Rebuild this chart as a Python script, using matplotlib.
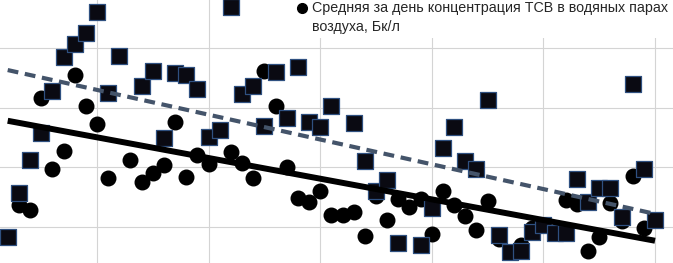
import numpy as np
import matplotlib.pyplot as plt
from matplotlib.lines import Line2D
from matplotlib.patches import Rectangle

# --- DATA (Tage und Konzentrationen) ---
days = np.arange(2, 61)

# Quadrate: zweite Reihe (Legende oberhalb abgeschnitten)
squares = [0.83, 1.57, 2.12, 2.58, 3.28, 3.85, 4.07, 4.25, 4.60, 3.25,
           3.87, np.nan, 3.36, 3.61, 2.49, 3.58, 3.55, 3.31, 2.51, 2.63,
           4.69, 3.23, 3.36, 2.69, 3.60, 2.83, 3.68, 2.76, 2.68, 3.03,
           np.nan, 2.74, 2.11, 1.60, 1.79, 0.73, np.nan, 0.70, 1.32, 2.32,
           2.68, 2.11, 1.97, 3.13, 0.87, 0.58, 0.60, 0.92, 1.03, 0.90,
           0.90, 1.80, 1.42, 1.65, 1.65, 1.17, 3.40, 1.97, 1.12]

# Kreise: Средняя за день концентрация ТСВ в водяных парах воздуха
circles = [np.nan, 1.37, 1.28, 3.16, 1.97, 2.27, 3.55, 3.03, 2.73, 1.82,
           np.nan, 2.12, 1.75, 1.90, 2.04, 2.76, 1.84, 2.21, 2.06, np.nan,
           2.26, 2.07, 1.82, 3.61, 3.03, 2.01, 1.49, 1.42, 1.60, 1.20,
           1.20, 1.25, 0.85, 1.52, 1.12, 1.47, 1.34, 1.47, 0.88, 1.60,
           1.37, 1.18, 0.95, 1.44, 0.80, 0.58, 0.70, 0.98, 1.03, np.nan,
           1.45, 1.39, 0.60, 0.83, 1.40, 1.10, 1.85, 0.98, np.nan]

# Trendlinien (Anfang/Ende)
trend_days = [2, 60]
trend_circles = [2.78, 0.77]
trend_squares = [3.63, 1.22]

legend_label = "Средняя за день концентрация ТСВ в водяных парах\nвоздуха, Бк/л"

# --- PLOT ---
plt.rcParams['font.family'] = ['Liberation Sans', 'DejaVu Sans']
fig = plt.figure(figsize=(6.73, 2.63), dpi=100)
ax = fig.add_axes([0, 0, 1, 1])

ax.scatter(days, circles, s=110, marker='o', color='black', zorder=3)
ax.scatter(days, squares, s=125, marker='s', facecolor='#0a0a12',
           edgecolor='#2f5080', linewidth=0.9, zorder=4)

ax.plot(trend_days, trend_circles, color='black', linewidth=4.3,
        solid_capstyle='butt', zorder=5)
ax.plot(trend_days, trend_squares, color='#44546a', linewidth=3,
        dashes=(2.6, 1.6), zorder=5)

ax.set_xlim(1.31, 61.61)
ax.set_ylim(0.397, 4.804)
ax.set_xticks([10, 20, 30, 40, 50, 60])
ax.set_yticks([1, 2, 3, 4])
ax.grid(True, color='#d4d4d4', linewidth=0.8, zorder=0)
ax.set_axisbelow(True)
ax.tick_params(length=0, labelbottom=False, labelleft=False)
for sp in ax.spines.values():
    sp.set_visible(False)

# Legende (nur der sichtbare Eintrag)
fig.add_artist(Rectangle((0.441, 0.856), 0.56, 0.15, transform=fig.transFigure,
                         facecolor='white', edgecolor='none', zorder=6))
fig.add_artist(Line2D([0.4487], [0.9696], transform=fig.transFigure, marker='o',
                      markersize=7, color='black', linestyle='none', zorder=7))
line1, line2 = legend_label.split("\n")
fig.text(0.4636, 0.954, line1, fontsize=10.3, color='#262626', va='baseline', zorder=7)
fig.text(0.4636, 0.884, line2, fontsize=10.3, color='#262626', va='baseline', zorder=7)

fig.savefig("out.png", dpi=100)
